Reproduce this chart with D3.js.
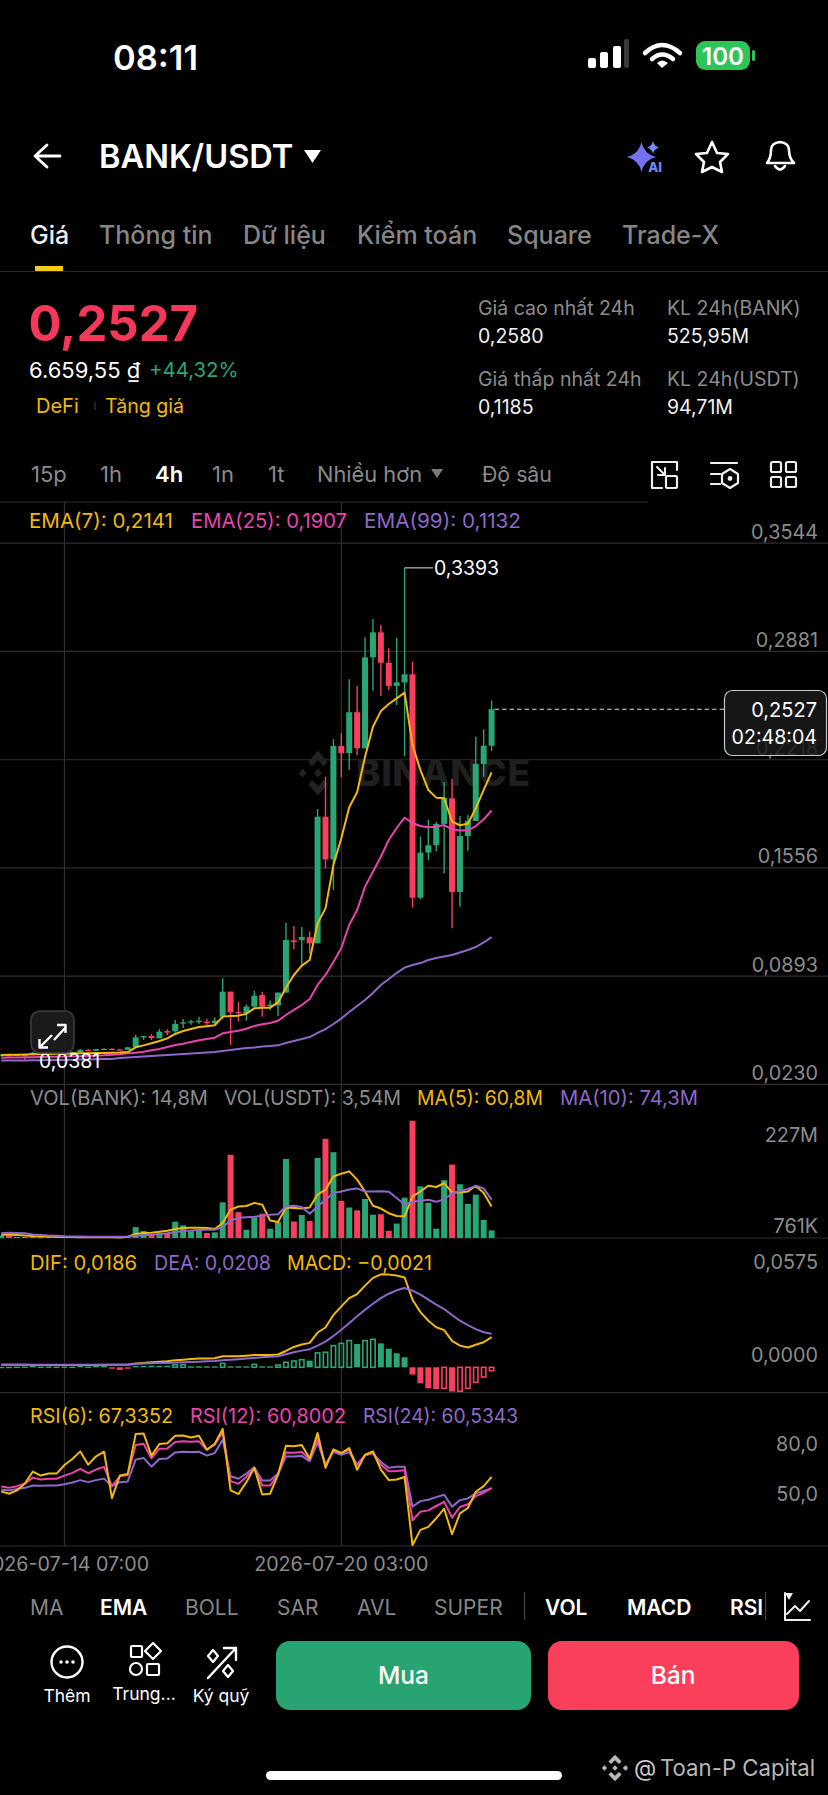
<!DOCTYPE html>
<html><head><meta charset="utf-8">
<script src="https://cdnjs.cloudflare.com/ajax/libs/d3/7.8.5/d3.min.js"></script>
<style>html,body{margin:0;padding:0;background:#000}svg{display:block}text{font-family:Inter,"Noto Sans",sans-serif}</style>
</head><body><svg id="c" width="828" height="1795" viewBox="0 0 828 1795"></svg>
<script>
// ---- data ----
const opens=[.0406,.0410,.0406,.0412,.0410,.0424,.0420,.0424,.0422,.0426,.0428,.0442,.0436,.0446,.0448,.0444,.0442,
.0457,.0517,.0526,.0512,.0557,.0555,.0604,.0608,.0612,.0614,.0606,.0645,.0798,.0673,.0667,.0706,.0777,.0712,.0714,.0792,.1112,.1114,.1131,.1094,.1869,.1608,.2302,.2259,.2509,.2288,.2845,.2998,.2812,.2670,.2692,.2741,.1373,.1649,.1694,.1825,.1982,.1408,.1751,.1843,.2192,.2304];
const closes=[.0410,.0406,.0412,.0410,.0424,.0420,.0424,.0422,.0426,.0428,.0442,.0436,.0446,.0448,.0444,.0442,.0457,
.0518,.0526,.0514,.0553,.0547,.0600,.0610,.0616,.0620,.0606,.0620,.0798,.0671,.0669,.0706,.0773,.0706,.0718,.0792,.1114,.1102,.1133,.1094,.1869,.1608,.2302,.2259,.2509,.2288,.2845,.2998,.2812,.2670,.2692,.2741,.1373,.1649,.1694,.1825,.1986,.1408,.1751,.1843,.2192,.2304,.2527];
const highs=[.0414,.0414,.0416,.0416,.0428,.0428,.0427,.0427,.0429,.0431,.0446,.0446,.0449,.0451,.0452,.0448,.0460,
.0534,.0527,.0540,.0569,.0567,.0624,.0630,.0624,.0645,.0630,.0641,.0880,.0798,.0735,.0720,.0804,.0798,.0743,.0792,.1220,.1200,.1194,.1167,.1916,.2114,.2343,.2380,.2711,.2671,.2968,.3080,.3043,.2900,.2965,.3393,.2818,.1747,.1849,.1839,.2082,.2100,.1874,.1880,.2359,.2404,.2580];
const lows=[.0402,.0402,.0403,.0381,.0407,.0417,.0417,.0419,.0419,.0423,.0425,.0433,.0433,.0443,.0441,.0439,.0440,
.0457,.0502,.0502,.0512,.0531,.0547,.0575,.0596,.0600,.0594,.0600,.0629,.0471,.0614,.0620,.0702,.0645,.0686,.0649,.0792,.1057,.0961,.1033,.1094,.1553,.1420,.2111,.2155,.2245,.2288,.2641,.2608,.2645,.2553,.2241,.1314,.1363,.1604,.1657,.1523,.1186,.1318,.1661,.1843,.2114,.2273];
const ema7=[.0410,.0411,.0412,.0413,.0414,.0415,.0416,.0417,.0418,.0419,.0420,.0421,.0422,.0423,.0424,.0425,.0428,
.0457,.0469,.0482,.0496,.0512,.0539,.0557,.0569,.0581,.0586,.0592,.0645,.0649,.0651,.0663,.0696,.0700,.0700,.0732,.0822,.0900,.0957,.0992,.1216,.1308,.1573,.1737,.1927,.2019,.2237,.2420,.2516,.2559,.2594,.2629,.2308,.2155,.2033,.1986,.1982,.1839,.1817,.1826,.1921,.2033,.2141];
const ema25=[.0393,.0394,.0395,.0396,.0397,.0398,.0399,.0400,.0401,.0402,.0403,.0405,.0407,.0408,.0412,.0415,.0420,
.0424,.0430,.0439,.0447,.0459,.0471,.0479,.0490,.0500,.0508,.0516,.0543,.0551,.0559,.0571,.0588,.0598,.0606,.0620,.0655,.0686,.0716,.0753,.0839,.0900,.0980,.1065,.1206,.1298,.1441,.1532,.1624,.1727,.1800,.1863,.1831,.1812,.1804,.1808,.1818,.1792,.1784,.1786,.1812,.1853,.1907];
const ema99=[.0376,.0376,.0377,.0377,.0378,.0378,.0379,.0379,.0380,.0381,.0382,.0383,.0384,.0385,.0386,.0391,.0395,
.0398,.0401,.0404,.0407,.0410,.0413,.0416,.0419,.0422,.0425,.0428,.0435,.0441,.0447,.0453,.0456,.0462,.0465,.0469,.0484,.0496,.0508,.0520,.0545,.0569,.0600,.0633,.0673,.0710,.0747,.0790,.0839,.0875,.0912,.0945,.0961,.0973,.0992,.1004,.1013,.1022,.1038,.1053,.1071,.1099,.1132];
const volumes=[5,5,2,2,3,2,2,1.5,1.5,1.5,1.5,1.5,1,1,1,1,1.2,21,13.5,6,10,9,31.6,24.5,13,16,9.7,11,69,161,50,16,40,47,18,31,153,32,44.5,33,155,192,166,72,59,53.5,75.5,45,46,14,28,78,227,100,68,18,112,142,104,66,84,35,14.8];
const volMa5=[6.5,6.5,6,5,4,3.5,3,2.5,2,1.8,1.6,1.5,1.5,1.4,1.3,1.2,2.5,7.7,9.7,10.3,12.3,14.2,17.4,19.4,20,20,19.4,17.4,29,54.8,61,62,68,64.5,34,31,59,58,57,59,84,93.5,119,124.5,129,113,90,62.5,57,48,42.6,42,80.6,90,101,98.7,106,88,88,90,101,87,60.8];
const volMa10=[9,10,9.5,9,7,6,5,4.5,3.5,3,2.8,2.6,2.5,2.5,2.5,2.5,2.8,4.5,5.5,6.5,7.5,9,11,14,14.5,15.5,16,16,21,34,39,40,41,43,45,46,61,62.5,60,47,61,74,87,90,94,96,90,90,90.5,89.5,77.5,65,70,72,74,70,75,86,91,95,101,96,74.3];
const dif=[.0016,.0016,.0015,.0015,.0014,.0014,.0014,.0014,.0014,.0014,.0014,.0014,.0014,.0015,.0015,.0015,.0016,
.0023,.0027,.0031,.0035,.0037,.0043,.0047,.0052,.0054,.0054,.0056,.0068,.0068,.0068,.0072,.0076,.0076,.0076,.0079,.0101,.0126,.0141,.0151,.0215,.0246,.0323,.0377,.0428,.0453,.0505,.0553,.0575,.0573,.0567,.0555,.0418,.0341,.0288,.0248,.0230,.0163,.0134,.0122,.0139,.0155,.0186];
const dea=[.0016,.0016,.0016,.0015,.0015,.0015,.0015,.0015,.0015,.0015,.0015,.0015,.0015,.0015,.0015,.0016,.0016,
.0021,.0023,.0025,.0027,.0027,.0029,.0031,.0033,.0035,.0037,.0039,.0043,.0046,.0050,.0054,.0058,.0062,.0065,.0068,.0081,.0093,.0103,.0112,.0134,.0159,.0194,.0232,.0273,.0315,.0356,.0393,.0428,.0455,.0476,.0490,.0474,.0449,.0418,.0387,.0360,.0323,.0288,.0261,.0236,.0217,.0208];
const hist=[.0003,.0003,.0004,.0005,.0008,.0004,.0005,.0004,.0005,.0004,.0009,.0005,.0008,.0008,-.0005,-.0016,-.0006,
.0008,.0009,.0010,.0009,.0010,.0016,.0017,.0006,.0006,.0006,.0006,.0024,.0006,.0006,.0006,.0018,.0006,.0006,.0014,.0031,.0039,.0047,.0041,.0089,.0093,.0134,.0148,.0165,.0144,.0165,.0173,.0148,.0115,.0087,.0062,-.0045,-.0099,-.0130,-.0134,-.0130,-.0150,-.0148,-.0130,-.0093,-.0060,-.0021];
const rsi6=[58.7,57.3,59.3,63.4,70.5,68.1,69.3,69.3,74.4,78.0,82.5,74.6,79.6,82.3,54.7,68.1,69.1,92.8,93.2,80.0,86.9,87.3,91.8,92.0,90.8,91.8,83.5,87.1,95.9,59.3,57.1,64.2,72.7,56.9,57.3,68.7,85.9,85.5,86.3,78.2,93.4,72.7,83.7,81.5,84.5,71.5,80.5,82.5,71.7,65.4,65.8,67.3,26.7,35.8,37.6,42.7,48.4,33.2,45.6,48.8,58.5,61.8,67.3];
const rsi12=[61.6,60.8,61.8,63.4,66.9,65.8,66.2,66.2,68.1,69.7,72.1,69.5,71.7,73.3,61.8,67.7,68.5,86.3,87.1,78.4,84.1,84.3,88.1,88.5,88.3,88.5,83.5,86.5,93.8,64.8,63.2,67.3,72.7,62.2,62.2,68.7,81.9,81.7,82.1,77.6,89.8,74.2,82.9,81.5,83.5,74.2,80.2,81.5,74.6,70.7,70.9,71.3,41.5,46.6,47.4,50.0,52.5,43.1,49.4,51.0,55.9,57.9,60.8];
const rsi24=[59.8,59.2,60.2,60.8,62.2,62.0,62.2,62.2,63.0,64.0,65.4,64.2,65.4,66.3,61.8,64.2,64.6,77.6,78.6,73.4,78.0,78.2,81.9,82.3,82.1,82.3,80.0,81.5,89.4,67.7,66.2,69.3,73.1,65.2,65.2,69.3,79.4,79.4,79.8,76.6,87.9,74.8,82.3,80.5,81.9,74.8,80.2,81.5,76.2,72.7,73.3,73.4,49.6,52.9,53.7,55.3,56.7,49.6,53.5,54.5,57.5,58.9,60.5];
const priceTicks=[0.3544,0.2881,0.2218,0.1556,0.0893,0.0230];
const priceTickLabels=["0,3544","0,2881","0,2218","0,1556","0,0893","0,0230"];
const dateTicks=[8,43];
const dateTickLabels=["2026-07-14 07:00","2026-07-20 03:00"];
const rsiTicks=[80,50];
const rsiTickLabels=["80,0","50,0"];
const macdTicks=[0.0575,0];
const macdTickLabels=["0,0575","0,0000"];
const volTicks=[227,0.761];
const volTickLabels=["227M","761K"];
const tabs=["Giá","Thông tin","Dữ liệu","Kiểm toán","Square","Trade-X"];
const intervals=["15p","1h","4h","1n","1t"];
const overlays=["MA","EMA","BOLL","SAR","AVL","SUPER"];
const panels=["VOL","MACD","RSI"];

// ---- colours ----
const UP="#2aa574",DOWN="#f83f5e",YEL="#f0b90b",PINK="#e844ac",PUR="#8d68c8",GRID="#2f2f2f",AX="#8c8c8c",LEG="#8c8c8c";

// ---- scales ----
const x=d3.scaleLinear().domain([0,62]).range([1.2,491.6]);
const yP=d3.scaleLinear().domain([0.0230,0.3544]).range([1084.4,543.2]);
const yV=d3.scaleLinear().domain([0,227]).range([1238,1120.7]);
const yM=d3.scaleLinear().domain([0,0.0575]).range([1367.3,1274.3]);
const yR=d3.scaleLinear().domain([50,80]).range([1506,1455.6]);

const svg=d3.select("#c");
svg.append("rect").attr("width",828).attr("height",1795).attr("fill","#000");
function T(px,py,s,o={}){return svg.append("text").attr("x",px).attr("y",py).attr("dy","0.36em")
  .attr("font-size",o.size||20).attr("fill",o.fill||"#fff").attr("font-weight",o.w||400)
  .attr("text-anchor",o.a||"start").style("letter-spacing",o.ls||null).text(s);}
function P(d,o={}){return svg.append("path").attr("d",d).attr("fill",o.fill||"none").attr("stroke",o.stroke||"none")
  .attr("stroke-width",o.sw||2).attr("stroke-linecap",o.cap||"round").attr("stroke-linejoin","round");}
function R(a,b,w,h,r,f,s){const e=svg.append("rect").attr("x",a).attr("y",b).attr("width",w).attr("height",h).attr("rx",r||0).attr("fill",f||"none");if(s)e.attr("stroke",s).attr("stroke-width",2.2);return e;}
const LOGO="M0 -22 L11 -11 L6.5 -6.5 L0 -13 L-6.5 -6.5 L-11 -11Z M0 22 L11 11 L6.5 6.5 L0 13 L-6.5 6.5 L-11 11Z M-22 0 L-17.5 -4.5 L-13 0 L-17.5 4.5Z M22 0 L17.5 -4.5 L13 0 L17.5 4.5Z M0 -4.5 L4.5 0 L0 4.5 L-4.5 0Z";

// ---- status bar ----
T(113,58,"08:11",{size:34.5,w:600});
[[588,10],[600,16],[613,22],[624,29]].forEach((b,i)=>R(b[0],68-b[1],i==3?5:8,b[1],2,i==3?"#3a3a3a":"#fff"));
P("M645 53 Q662 37 680 53",{stroke:"#fff",sw:4.5});P("M652 59 Q662 50 673 59",{stroke:"#fff",sw:4.5});P("M657 63 L662 68 L668 63 Q662 58 657 63Z",{fill:"#fff"});
R(696,41,54,29,9,"#2fc45a");T(723,56,"100",{size:24,w:600,a:"middle"});R(752,50,3,11,1.5,"#2fc45a");

// ---- header ----
P("M60 156 H36 M47 145 L35 156 L47 167",{stroke:"#fff",sw:2.8});
T(99,156,"BANK/USDT",{size:32.6,w:600});
P("M304 150 H321 L312.5 163Z",{fill:"#fff"});
P("M641.5 142 Q644 154 656 157 Q644 160 641.5 172 Q639 160 627 157 Q639 154 641.5 142Z",{fill:"#7471f2"});
P("M653 141 Q654 146 659 147.5 Q654 149 653 154 Q652 149 647 147.5 Q652 146 653 141Z",{fill:"#6d8cf4"});
T(655,167,"AI",{size:13,w:800,fill:"#6d8cf4",a:"middle"});
P("M712 142 L717 153 L728 154 L720 162 L722 172 L712 167 L702 172 L704 162 L696 154 L707 153Z",{stroke:"#fff",sw:2.6});
P("M767 163 Q771 158 771 150 Q771 143 780 142 Q789 143 789 150 Q789 158 794 163 Z M775 166 Q780 173 785 166",{stroke:"#fff",sw:2.6});

// ---- tabs ----
const tabX=[30,99,243,357,507,622];
tabs.forEach((t,i)=>T(tabX[i],235,t,{size:25,fill:i?"#868686":"#eee",w:500}));
R(35,266,28,5,0,"#f3cb1b");
svg.append("line").attr("x1",0).attr("x2",828).attr("y1",271.5).attr("y2",271.5).attr("stroke","#2a2a2a").attr("stroke-width",1.2);

// ---- price block ----
T(28.5,323,"0,2527",{size:49,fill:"#f5375a",w:700});
T(29,370,"6.659,55 ₫",{size:22});
T(149,370,"+44,32%",{size:20.4,fill:"#2aa574"});
T(36,406,"DeFi",{size:20,fill:YEL});R(94.5,402,1,8,0,"#444");T(105,406,"Tăng giá",{size:19.6,fill:YEL});
const hs=[[478,308,"Giá cao nhất 24h",1],[667,308,"KL 24h(BANK)",1],[478,336,"0,2580",0],[667,336,"525,95M",0],[478,379,"Giá thấp nhất 24h",1],[667,379,"KL 24h(USDT)",1],[478,407,"0,1185",0],[667,407,"94,71M",0]];
hs.forEach(h=>T(h[0],h[1],h[2],{size:19.5,fill:h[3]?"#8c8c8c":"#f2f2f2"}));

// ---- interval row ----
const ivX=[31,100,155,212,268];
intervals.forEach((t,i)=>T(ivX[i],474,t,{size:22,fill:i==2?"#fff":"#8a8a8a",w:i==2?600:400}));
T(317,474,"Nhiều hơn",{size:21.8,fill:"#8a8a8a"});P("M431 469 H443 L437 478Z",{fill:"#7a7a7a"});
T(482,474,"Độ sâu",{size:21.3,fill:"#8a8a8a"});
P("M652 488 V462 H677 V470 M652 488 H662",{stroke:"#eee",sw:2.2});R(666,476,11,12,1,null,"#eee");P("M657 467 L665 475 M665 468 V475 H658",{stroke:"#eee",sw:2});
P("M711 463 H737 M711 474 H720 M711 484 H720",{stroke:"#eee",sw:2.2});P("M730 469 L738 474 V483 L730 488 L722 483 V474Z",{stroke:"#eee",sw:2.2});svg.append("circle").attr("cx",730).attr("cy",478.5).attr("r",2.4).attr("fill","#eee");
[[771,462],[786,462],[771,477],[786,477]].forEach(c=>R(c[0],c[1],10,10,1.5,null,"#eee"));

// ---- grid ----
const gridYs=priceTicks.map(yP).concat([yV(0),1392.7,1546]);
svg.append("line").attr("x1",0).attr("x2",648).attr("y1",502).attr("y2",502).attr("stroke",GRID).attr("stroke-width",1.2);
svg.append("g").selectAll("line").data(gridYs).join("line").attr("x1",0).attr("x2",828)
 .attr("y1",d=>d).attr("y2",d=>d).attr("stroke",GRID).attr("stroke-width",1.2);
svg.append("g").selectAll("line").data(dateTicks).join("line").attr("x1",d=>x(d)).attr("x2",d=>x(d))
 .attr("y1",502).attr("y2",1546).attr("stroke",GRID).attr("stroke-width",1.2);

// ---- watermark ----
const wm=svg.append("g");
wm.append("text").attr("x",356).attr("y",786).attr("font-size",37).attr("font-weight",800).attr("fill","#1f1f1f").style("letter-spacing","0.6px").text("BINANCE");
wm.append("path").attr("d",LOGO).attr("fill","#222").attr("transform","translate(318,773) scale(0.88,1.02)");

// ---- legends ----
function legend(py,items){items.forEach(it=>T(it[0],py,it[1],{size:20,fill:it[2]}).attr("textLength",it[3]).attr("lengthAdjust","spacingAndGlyphs"));}
legend(521,[[29,"EMA(7): 0,2141",YEL,144],[191,"EMA(25): 0,1907",PINK,156],[364,"EMA(99): 0,1132",PUR,157]]);
legend(1098,[[30,"VOL(BANK): 14,8M",LEG,178],[224,"VOL(USDT): 3,54M",LEG,177],[417,"MA(5): 60,8M",YEL,126],[560,"MA(10): 74,3M",PUR,138]]);
legend(1263,[[30,"DIF: 0,0186",YEL,107],[154,"DEA: 0,0208",PUR,117],[287,"MACD: −0,0021",YEL,145]]);
legend(1416,[[30,"RSI(6): 67,3352",YEL,143],[190,"RSI(12): 60,8002",PINK,156],[363,"RSI(24): 60,5343",PUR,155]]);

// ---- axis labels ----
const axisT=(py,s)=>T(818,py,s,{size:19.8,fill:AX,a:"end"});
priceTicks.forEach((v,i)=>axisT(yP(v)-11.5,priceTickLabels[i]));
axisT(yV(volTicks[0])+14.5,volTickLabels[0]);axisT(yV(volTicks[1])-11.5,volTickLabels[1]);
macdTicks.forEach((v,i)=>axisT(yM(v)-12.5,macdTickLabels[i]));
rsiTicks.forEach((v,i)=>axisT(yR(v)-11.8,rsiTickLabels[i]));
dateTicks.forEach((d,i)=>T(x(d),1564,dateTickLabels[i],{size:19.7,fill:AX,a:"middle"}));

// ---- candles ----
const idx=d3.range(opens.length);
const col=i=>closes[i]>=opens[i]?UP:DOWN;
const BW=6;
const cg=svg.append("g");
cg.selectAll("line").data(idx).join("line").attr("x1",x).attr("x2",x).attr("y1",i=>yP(highs[i])).attr("y2",i=>yP(lows[i])).attr("stroke",col).attr("stroke-width",1.4);
cg.selectAll("rect").data(idx).join("rect").attr("x",i=>x(i)-BW/2).attr("width",BW)
 .attr("y",i=>Math.min(yP(opens[i]),yP(closes[i]))).attr("height",i=>Math.max(1.3,Math.abs(yP(opens[i])-yP(closes[i])))).attr("fill",col);
const line=(arr,y)=>d3.line().x((d,i)=>x(i)).y(d=>y(d))(arr);
function series(arr,y,c,sw){svg.append("path").attr("d",line(arr,y)).attr("fill","none").attr("stroke",c).attr("stroke-width",sw||2).attr("stroke-linejoin","round");}
series(ema99,yP,PUR);series(ema25,yP,PINK);series(ema7,yP,YEL);

// high / low markers
const hi=d3.maxIndex(highs),lo=d3.minIndex(lows);
svg.append("line").attr("x1",x(hi)).attr("x2",433).attr("y1",yP(highs[hi])).attr("y2",yP(highs[hi])).attr("stroke","#ccc").attr("stroke-width",1.1);
T(434,yP(highs[hi]),"0,3393",{size:19.5});
T(39,yP(lows[lo])+1,"0,0381",{size:19.5});

// price line and tag
const last=closes[closes.length-1];
svg.append("line").attr("x1",x(62)+3).attr("x2",724).attr("y1",yP(last)).attr("y2",yP(last)).attr("stroke","#ddd").attr("stroke-width",1.1).attr("stroke-dasharray","4.5 3");
R(724.5,690.5,102,65,8,"#1a1a1a").attr("stroke","#c8c8c8").attr("stroke-width",1.2).attr("fill-opacity",.86);
T(817,710,"0,2527",{size:20,a:"end"});T(817,737,"02:48:04",{size:19.6,a:"end"});

// expand button
R(31,1011,43,42,9,"#1b1b1b").attr("stroke","#3c3c3c").attr("stroke-width",1.6).attr("fill-opacity",.95);
P("M54 1040 L66 1027 M57 1025 H65.5 V1033 M40 1047 L52 1035 M39.5 1039 V1047.5 H48",{stroke:"#fff",sw:2.4,cap:"butt"});

// ---- volume ----
svg.append("g").selectAll("rect").data(idx).join("rect").attr("x",i=>x(i)-BW/2).attr("width",BW)
 .attr("y",i=>yV(volumes[i])).attr("height",i=>yV(0)-yV(volumes[i])).attr("fill",col);
series(volMa5,yV,YEL);series(volMa10,yV,PUR);

// ---- MACD ----
const mg=svg.append("g");
mg.selectAll("rect").data(idx).join("rect")
 .each(function(i){
   const v=hist[i],c=v>=0?UP:DOWN,hollow=i>0&&v>hist[i-1]&&Math.abs(v)>.0012;
   const top=Math.min(yM(v),yM(0)),h=Math.max(1.4,Math.abs(yM(v)-yM(0)));
   d3.select(this).attr("x",x(i)-BW/2+(hollow?.8:0)).attr("width",BW-(hollow?1.6:0)).attr("y",top).attr("height",h)
    .attr("fill",hollow?"none":c).attr("stroke",hollow?c:"none").attr("stroke-width",1.6);
 });
series(dif,yM,YEL);series(dea,yM,PUR);

// ---- RSI ----
series(rsi24,yR,PUR);series(rsi12,yR,PINK);series(rsi6,yR,YEL);

// ---- indicator row ----
const ovX=[30,100,185,277,357,434];
overlays.forEach((t,i)=>T(ovX[i],1607,t,{size:21,fill:i==1?"#fff":"#868686",w:i==1?600:400}));
const paX=[545,627,730];
panels.forEach((t,i)=>T(paX[i],1607,t,{size:21,w:600}));
R(524,1592,1.2,28,0,"#444");R(765,1592,1.2,28,0,"#444");
P("M785 1593 V1620 H810 M787 1614 L795 1606 L800 1611 L809 1601",{stroke:"#eee",sw:2});P("M785 1593 H793 L789 1600Z",{fill:"#eee"});

// ---- footer ----
svg.append("circle").attr("cx",67).attr("cy",1662).attr("r",15.5).attr("fill","none").attr("stroke","#fff").attr("stroke-width",2.4);
[61,67,73].forEach(a=>svg.append("circle").attr("cx",a).attr("cy",1662).attr("r",1.8).attr("fill","#fff"));
T(67,1696,"Thêm",{size:17.5,a:"middle"});
R(131,1646,11,11,1,null,"#fff");P("M153 1643 L161 1651 L153 1659 L145 1651Z",{stroke:"#fff",sw:2.2});
svg.append("circle").attr("cx",136).attr("cy",1669).attr("r",6).attr("fill","none").attr("stroke","#fff").attr("stroke-width",2.2);R(147,1664,12,11,1,null,"#fff");
T(144,1694,"Trung...",{size:17.5,a:"middle"});
P("M208 1678 L236 1648 M224 1648 H236 V1660",{stroke:"#fff",sw:2.4});P("M213 1650 L218 1656 L213 1662 L208 1656Z M228 1665 L233 1671 L228 1677 L223 1671Z",{stroke:"#fff",sw:2.2});
T(221,1696,"Ký quỹ",{size:17.5,a:"middle"});
R(276,1641,255,69,14,"#28a372");T(403.5,1675.5,"Mua",{size:24.5,w:500,a:"middle"});
R(548,1641,251,69,14,"#f93f5a");T(673,1675.5,"Bán",{size:24.5,w:500,a:"middle"});
R(266,1771,296,9,4.5,"#fff");
svg.append("path").attr("d",LOGO).attr("fill","#b8b8b8").attr("transform","translate(615,1768) scale(0.6)");
T(634,1768,"@",{size:23,fill:"#c8c8c8"});T(660,1768,"Toan-P Capital",{size:22.2,fill:"#b8b8b8"});
</script></body></html>
